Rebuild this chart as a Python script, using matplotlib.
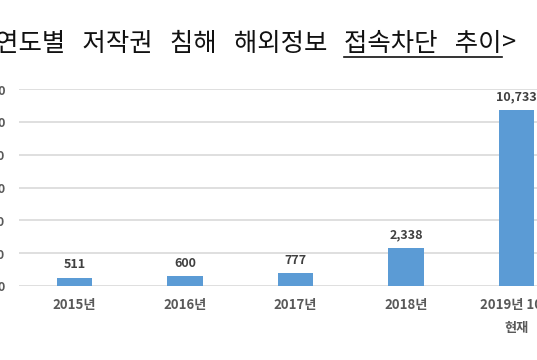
import matplotlib
matplotlib.use("Agg")
import matplotlib.pyplot as plt
from matplotlib.ticker import FuncFormatter

categories = ["2015년", "2016년", "2017년", "2018년", "2019년 10월\n현재"]
values = [511, 600, 777, 2338, 10733]
yticks = [0, 2000, 4000, 6000, 8000, 10000, 12000]
title_plain = "<연도별   저작권   침해   해외정보   "
title_under = "접속차단   추이"
title_end = ">"

plt.rcParams['font.family'] = ['Noto Sans CJK KR', 'DejaVu Sans']

fig = plt.figure(figsize=(5.37, 3.60), dpi=100)
ax = fig.add_axes([19/537, (360-286)/360, 553/537, (286-89)/360])

x = list(range(len(categories)))
bars = ax.bar(x, values, width=0.32, color="#5b9bd5", zorder=3)
ax.set_xlim(-0.5, len(categories) - 0.5)
ax.set_ylim(0, 12000)
ax.set_yticks(yticks)
ax.yaxis.set_major_formatter(FuncFormatter(lambda v, p: f"{int(v):,}"))
ax.grid(axis='y', color="#d9d9d9", linewidth=1.2, zorder=0)
for s in ax.spines.values():
    s.set_visible(False)
ax.tick_params(axis='y', length=0, pad=10, labelsize=9, labelcolor="#595959")
ax.tick_params(axis='x', length=0, pad=9, labelsize=9.5, labelcolor="#595959")
ax.set_xticks(x)
ax.set_xticklabels(categories, fontweight='bold', linespacing=1.75)
for lab in ax.get_yticklabels():
    lab.set_fontweight('bold')

for xi, v in zip(x, values):
    ax.annotate(f"{v:,}", (xi, v), xytext=(0, 4.5), textcoords='offset points',
                ha='center', va='bottom', fontsize=9, fontweight='bold', color="#404040")

# title in pieces, right-aligned, with underline under the middle piece
renderer = fig.canvas.get_renderer()
ty = (360 - 44) / 360
tkw = dict(va='center', fontsize=18.3, color="#111111")
t3 = fig.text(516/537, ty, title_end, ha='right', **tkw)
bb3 = t3.get_window_extent(renderer)
t2 = fig.text(bb3.x0 / fig.bbox.width, ty, title_under, ha='right', **tkw)
bb2 = t2.get_window_extent(renderer)
t1 = fig.text(bb2.x0 / fig.bbox.width, ty, title_plain, ha='right', **tkw)
fig.add_artist(plt.Line2D([bb2.x0 / fig.bbox.width, bb2.x1 / fig.bbox.width],
                          [(360 - 57) / 360] * 2, color="#111111", linewidth=1.2,
                          transform=fig.transFigure))

fig.savefig("out.png", dpi=100, facecolor="white")
